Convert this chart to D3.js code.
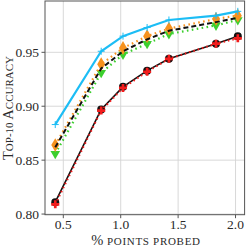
<!DOCTYPE html>
<meta charset="utf-8">
<style>
    body { margin: 0; background: white; }
    text { font-family: "Liberation Serif", "DejaVu Serif", serif; fill: #2a2a2a; }
</style>
<body>
<script src="https://d3js.org/d3.v7.min.js"></script>
<script>
    var width = 249, height = 249;

    // fraction of points probed (%)
    const probed = [0.43, 0.83, 1.02, 1.23, 1.42, 1.83, 2.02];

    const blueVals   = [0.883, 0.951, 0.965, 0.973, 0.980, 0.984, 0.988];
    const orangeVals = [0.864, 0.939, 0.954, 0.965, 0.972, 0.981, 0.984];
    const dashVals   = [0.862, 0.935, 0.951, 0.962, 0.970, 0.978, 0.982];
    const greenVals  = [0.856, 0.931, 0.948, 0.958, 0.967, 0.975, 0.980];
    const blackVals  = [0.811, 0.897, 0.918, 0.933, 0.944, 0.958, 0.965];
    const redVals    = [0.809, 0.896, 0.917, 0.932, 0.944, 0.958, 0.963];

    const xTicks = [0.5, 1.0, 1.5, 2.0];
    const yTicks = [0.80, 0.85, 0.90, 0.95];

    var x = d3.scaleLinear().domain([0.3406, 2.079]).range([45, 244.6]);
    var y = d3.scaleLinear().domain([0.7994, 0.9976]).range([214.7, 1]);

    var svg = d3.select("body").append("svg")
        .attr("width", width)
        .attr("height", height);

    // grid
    svg.append("g").selectAll("line")
        .data(xTicks).enter().append("line")
        .attr("x1", d => x(d)).attr("x2", d => x(d))
        .attr("y1", y.range()[0]).attr("y2", y.range()[1])
        .attr("stroke", "#d4d4d4").attr("stroke-width", 0.9);
    svg.append("g").selectAll("line")
        .data(yTicks).enter().append("line")
        .attr("y1", d => y(d)).attr("y2", d => y(d))
        .attr("x1", x.range()[0]).attr("x2", x.range()[1])
        .attr("stroke", "#d4d4d4").attr("stroke-width", 0.9);

    var line = d3.line().x((d, i) => x(probed[i])).y(d => y(d));

    function drawLine(vals, color, w, dash) {
        svg.append("path")
            .attr("d", line(vals))
            .attr("fill", "none")
            .attr("stroke", color)
            .attr("stroke-width", w)
            .attr("stroke-dasharray", dash || null);
    }

    function drawMarkers(vals, type, size, color, rot) {
        svg.append("g").selectAll("path")
            .data(vals).enter().append("path")
            .attr("d", d3.symbol().type(type).size(size))
            .attr("transform", (d, i) => "translate(" + x(probed[i]) + "," + y(d) + ")" + (rot ? " rotate(" + rot + ")" : ""))
            .attr("fill", color);
    }

    // green, triangles down, dotted
    drawLine(greenVals, "#3ccf2e", 2.2, "1.6,3.4");
    drawMarkers(greenVals, d3.symbolTriangle, 40, "#3ccf2e", 180);

    // orange, diamonds, dotted
    drawLine(orangeVals, "#f7921e", 2.2, "1.6,3.4");
    drawMarkers(orangeVals, d3.symbolDiamond, 55, "#f7921e");

    // black dashed
    drawLine(dashVals, "#111", 2, "5,3");

    // blue with thin plus markers
    drawLine(blueVals, "#1cbdf5", 2.2);
    svg.append("g").selectAll("path")
        .data(blueVals).enter().append("path")
        .attr("d", "M-3.5,0H3.5M0,-3.5V3.5")
        .attr("transform", (d, i) => "translate(" + x(probed[i]) + "," + y(d) + ")")
        .attr("stroke", "#1cbdf5").attr("stroke-width", 1);

    // black solid with circles
    drawLine(blackVals, "#111", 1.6);
    drawMarkers(blackVals, d3.symbolCircle, 50, "#111");

    // red dotted with filled plus
    drawLine(redVals, "#f21c1c", 2, "1.5,3");
    drawMarkers(redVals, d3.symbolCross, 36, "#f21c1c");

    // spines
    svg.append("rect")
        .attr("x", x.range()[0]).attr("y", y.range()[1])
        .attr("width", x.range()[1] - x.range()[0])
        .attr("height", y.range()[0] - y.range()[1])
        .attr("fill", "none").attr("stroke", "#555").attr("stroke-width", 1);

    // ticks
    svg.append("g").selectAll("line")
        .data(xTicks).enter().append("line")
        .attr("x1", d => x(d)).attr("x2", d => x(d))
        .attr("y1", y.range()[0]).attr("y2", y.range()[0] + 3.5)
        .attr("stroke", "#555");
    svg.append("g").selectAll("line")
        .data(yTicks).enter().append("line")
        .attr("y1", d => y(d)).attr("y2", d => y(d))
        .attr("x1", x.range()[0] - 3.5).attr("x2", x.range()[0])
        .attr("stroke", "#555");

    svg.append("g").selectAll("text")
        .data(xTicks).enter().append("text")
        .attr("x", d => x(d)).attr("y", 229)
        .attr("text-anchor", "middle")
        .attr("font-size", 13.5)
        .text(d => d.toFixed(1));
    svg.append("g").selectAll("text")
        .data(yTicks).enter().append("text")
        .attr("x", 39).attr("y", d => y(d) + 4.5)
        .attr("text-anchor", "end")
        .attr("font-size", 13.5)
        .text(d => d.toFixed(2));

    // axis labels with small caps
    var xl = svg.append("text")
        .attr("x", 146).attr("y", 245)
        .attr("text-anchor", "middle")
        .attr("font-size", 14.5);
    xl.append("tspan").text("% ");
    xl.append("tspan").attr("font-size", 11).attr("letter-spacing", 0.7).text("POINTS PROBED");

    var yl = svg.append("text")
        .attr("transform", "translate(13,108) rotate(-90)")
        .attr("text-anchor", "middle")
        .attr("font-size", 14.5);
    yl.append("tspan").text("T");
    yl.append("tspan").attr("font-size", 11).text("OP-10 ");
    yl.append("tspan").text("A");
    yl.append("tspan").attr("font-size", 11).text("CCURACY");
</script>
</body>
